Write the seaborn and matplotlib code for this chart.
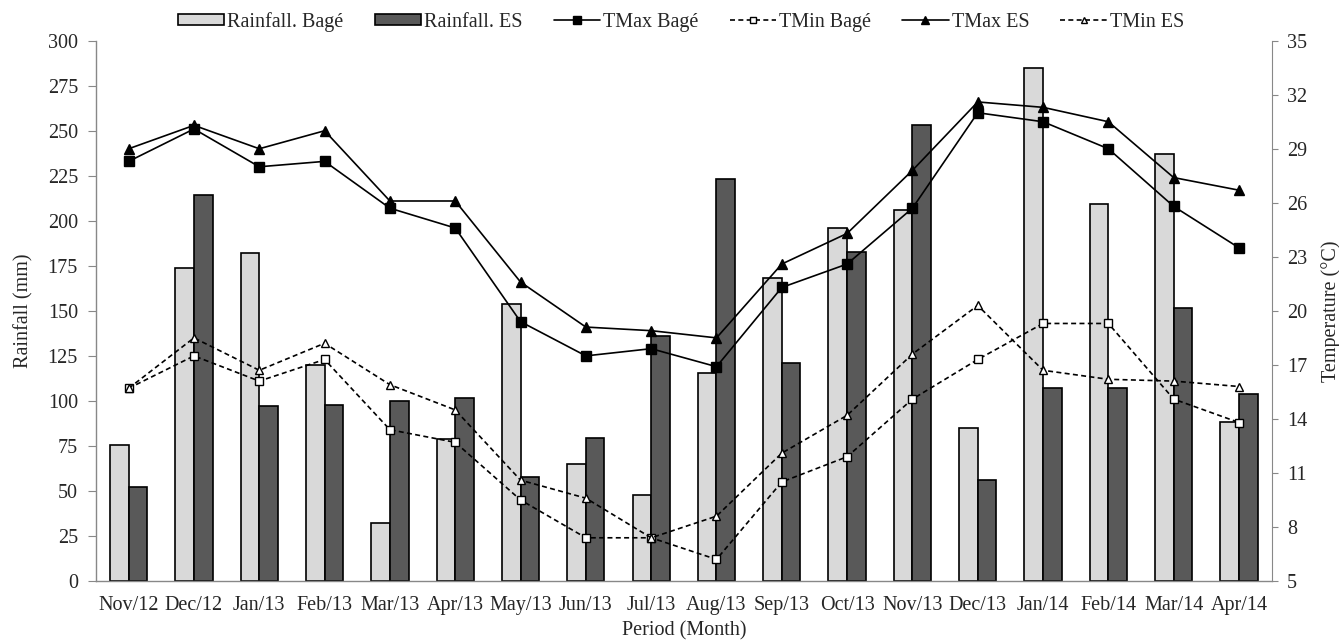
import numpy as np
import pandas as pd
import matplotlib
matplotlib.use("Agg")
import matplotlib.pyplot as plt
import seaborn as sns
from matplotlib.lines import Line2D
from matplotlib.patches import Patch

months = ["Nov/12", "Dec/12", "Jan/13", "Feb/13", "Mar/13", "Apr/13", "May/13", "Jun/13",
          "Jul/13", "Aug/13", "Sep/13", "Oct/13", "Nov/13", "Dec/13", "Jan/14", "Feb/14",
          "Mar/14", "Apr/14"]
rain_bage = [75.5, 174, 182, 120, 32, 79, 154, 65, 47.5, 115.5, 168, 196, 206, 85, 285, 209.5, 237, 88.5]
rain_es = [52, 214.5, 97, 98, 100, 101.5, 58, 79.5, 136, 223, 121, 182.5, 253, 56, 107, 107, 151.5, 104]
tmax_bage = [28.3, 30.1, 28.0, 28.3, 25.7, 24.6, 19.4, 17.5, 17.9, 16.9, 21.3, 22.6, 25.7, 31.0, 30.5, 29.0, 25.8, 23.5]
tmin_bage = [15.7, 17.5, 16.1, 17.3, 13.4, 12.7, 9.5, 7.4, 7.4, 6.2, 10.5, 11.9, 15.1, 17.3, 19.3, 19.3, 15.1, 13.8]
tmax_es = [29.0, 30.3, 29.0, 30.0, 26.1, 26.1, 21.6, 19.1, 18.9, 18.5, 22.6, 24.3, 27.8, 31.6, 31.3, 30.5, 27.4, 26.7]
tmin_es = [15.7, 18.5, 16.7, 18.2, 15.9, 14.5, 10.6, 9.6, 7.4, 8.6, 12.1, 14.2, 17.6, 20.3, 16.7, 16.2, 16.1, 15.8]

sns.set_style("white")
plt.rcParams["font.family"] = ["Liberation Serif", "DejaVu Serif"]
FS = 14.5
plt.rcParams["font.size"] = FS

df = pd.DataFrame({
    "Month": months * 2,
    "Rain": rain_bage + rain_es,
    "Station": ["Rainfall. Bagé"] * len(months) + ["Rainfall. ES"] * len(months),
})

fig = plt.figure(figsize=(13.39, 6.43), dpi=100)
ax = fig.add_axes([0.0717, 0.0964, 0.878, 0.8403])
sns.barplot(data=df, x="Month", y="Rain", hue="Station", order=months,
            palette={"Rainfall. Bagé": "#d9d9d9", "Rainfall. ES": "#595959"},
            width=0.57, edgecolor="black", linewidth=1.2, gap=0, ax=ax, legend=False)
ax.set_xlim(-0.5, len(months) - 0.5)
ax.set_ylim(0, 300)
ax.set_yticks(np.arange(0, 301, 25))
ax.set_ylabel("Rainfall (mm)", fontsize=FS, labelpad=10)
ax.set_xlabel("Period (Month)", fontsize=FS, labelpad=4)

x = np.arange(len(months))
ax.set_xticks(x)
ax.set_xticklabels(months)
ax.set_xticks(np.arange(-0.5, len(months), 1), minor=True)
ax.tick_params(axis="x", which="major", length=0, pad=11, labelsize=FS)
ax.tick_params(axis="x", which="minor", length=5.5, color="#888888", direction="out")
ax.tick_params(axis="y", length=6, pad=7, color="#888888", direction="out", left=True, labelsize=FS)

for s in ["top", "right"]:
    ax.spines[s].set_visible(False)
for s in ["left", "bottom"]:
    ax.spines[s].set_color("#888888")
    ax.spines[s].set_linewidth(1)

ax2 = ax.twinx()
ax2.set_ylim(5, 35)
ax2.set_yticks(np.arange(5, 36, 3))
ax2.tick_params(axis="y", length=4, pad=7, color="#888888", direction="out", right=True, labelsize=FS)
for s in ["top", "left", "bottom"]:
    ax2.spines[s].set_visible(False)
ax2.spines["right"].set_color("#888888")

temp = pd.DataFrame({"x": x, "TMax Bagé": tmax_bage, "TMin Bagé": tmin_bage,
                     "TMax ES": tmax_es, "TMin ES": tmin_es})
styles = {
    "TMax Bagé": dict(linestyle="-", marker="s", markerfacecolor="black", markersize=7),
    "TMin Bagé": dict(linestyle=(0, (3, 2)), marker="s", markerfacecolor="white", markersize=6),
    "TMax ES": dict(linestyle="-", marker="^", markerfacecolor="black", markersize=7),
    "TMin ES": dict(linestyle=(0, (3, 2)), marker="^", markerfacecolor="white", markersize=6),
}
for name, st in styles.items():
    sns.lineplot(data=temp, x="x", y=name, ax=ax2, color="black", linewidth=1.2,
                 markeredgecolor="black", markeredgewidth=1, sort=False,
                 linestyle=st["linestyle"], marker=st["marker"],
                 markerfacecolor=st["markerfacecolor"], markersize=st["markersize"],
                 legend=False)
ax2.set_xlabel("")
ax2.set_ylabel("Temperature (°C)", fontsize=FS, labelpad=10)
ax2.set_xlim(-0.5, len(months) - 0.5)

handles = [
    Patch(facecolor="#d9d9d9", edgecolor="black", linewidth=1.2),
    Patch(facecolor="#595959", edgecolor="black", linewidth=1.2),
]
for name, st in styles.items():
    handles.append(Line2D([0], [0], color="black", linewidth=1.2, linestyle=st["linestyle"],
                          marker=st["marker"], markerfacecolor=st["markerfacecolor"],
                          markeredgecolor="black", markersize=st["markersize"] - 1))
labels = ["Rainfall. Bagé", "Rainfall. ES", "TMax Bagé", "TMin Bagé", "TMax ES", "TMin ES"]
fig.legend(handles, labels, loc="center", bbox_to_anchor=(0.5086, 0.966), ncol=6,
           frameon=False, fontsize=FS, handlelength=2.3, handletextpad=0.15,
           columnspacing=1.55, handleheight=0.5, borderpad=0)

fig.savefig("out.png", dpi=100)
